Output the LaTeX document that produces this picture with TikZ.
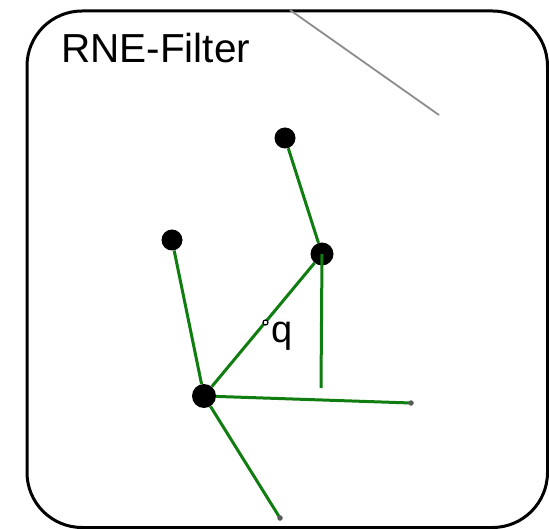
\documentclass[tikz,border=0pt]{standalone}
\usepackage{fontspec}
\setmainfont{Liberation Sans}
\definecolor{edgegreen}{RGB}{16,125,16}
\definecolor{tipgray}{RGB}{90,90,90}
\tikzset{
  vertex/.style={circle,fill=black,inner sep=0pt,minimum size=#1},
  vertex/.default=20pt,
  edge/.style={draw=edgegreen,line width=3pt},
  tipdot/.style={circle,fill=tipgray,inner sep=0pt,minimum size=5.5pt},
  qdot/.style={circle,draw=black,fill=white,line width=1.2pt,inner sep=0pt,minimum size=5pt},
}
\begin{document}
\begin{tikzpicture}[x=1pt,y=-1pt]
\useasboundingbox (0,0) rectangle (549,529);
% frame
\draw[line width=3pt,rounded corners=55pt] (27,11) rectangle (547.5,527.5);
\node[anchor=base west,font=\fontsize{40.5}{42}\selectfont,inner sep=0pt] (title) at (61,63) {RNE-Filter};
% gray line
\coordinate (g1) at (290,10);
\coordinate (g2) at (439,115);
\draw[draw=gray!90,line width=1.8pt] (g1) -- (g2);
% vertices
\node[vertex=21pt] (A) at (285,138) {};
\node[vertex=21pt] (B) at (172,240) {};
\node[vertex=23pt] (C) at (322,254) {};
\node[vertex=24pt] (D) at (204,396) {};
% free ends
\coordinate (E1) at (321,388);
\coordinate (E2) at (411,403);
\coordinate (E3) at (280,518);
% edges
\draw[edge] (A) -- (C);
\draw[edge] (B) -- (D);
\draw[edge] (C) -- (D);
\draw[edge] (C.center) -- (E1);
\draw[edge] (D) -- (E2);
\draw[edge] (D) -- (E3);
\node[tipdot] (t2) at (E2) {};
\node[tipdot] (t3) at (E3) {};
% query point
\node[qdot] (q) at (265.5,322.5) {};
\node[anchor=base west,font=\fontsize{38}{40}\selectfont,inner sep=0pt] (qlabel) at (271,342) {q};
\end{tikzpicture}
\end{document}
